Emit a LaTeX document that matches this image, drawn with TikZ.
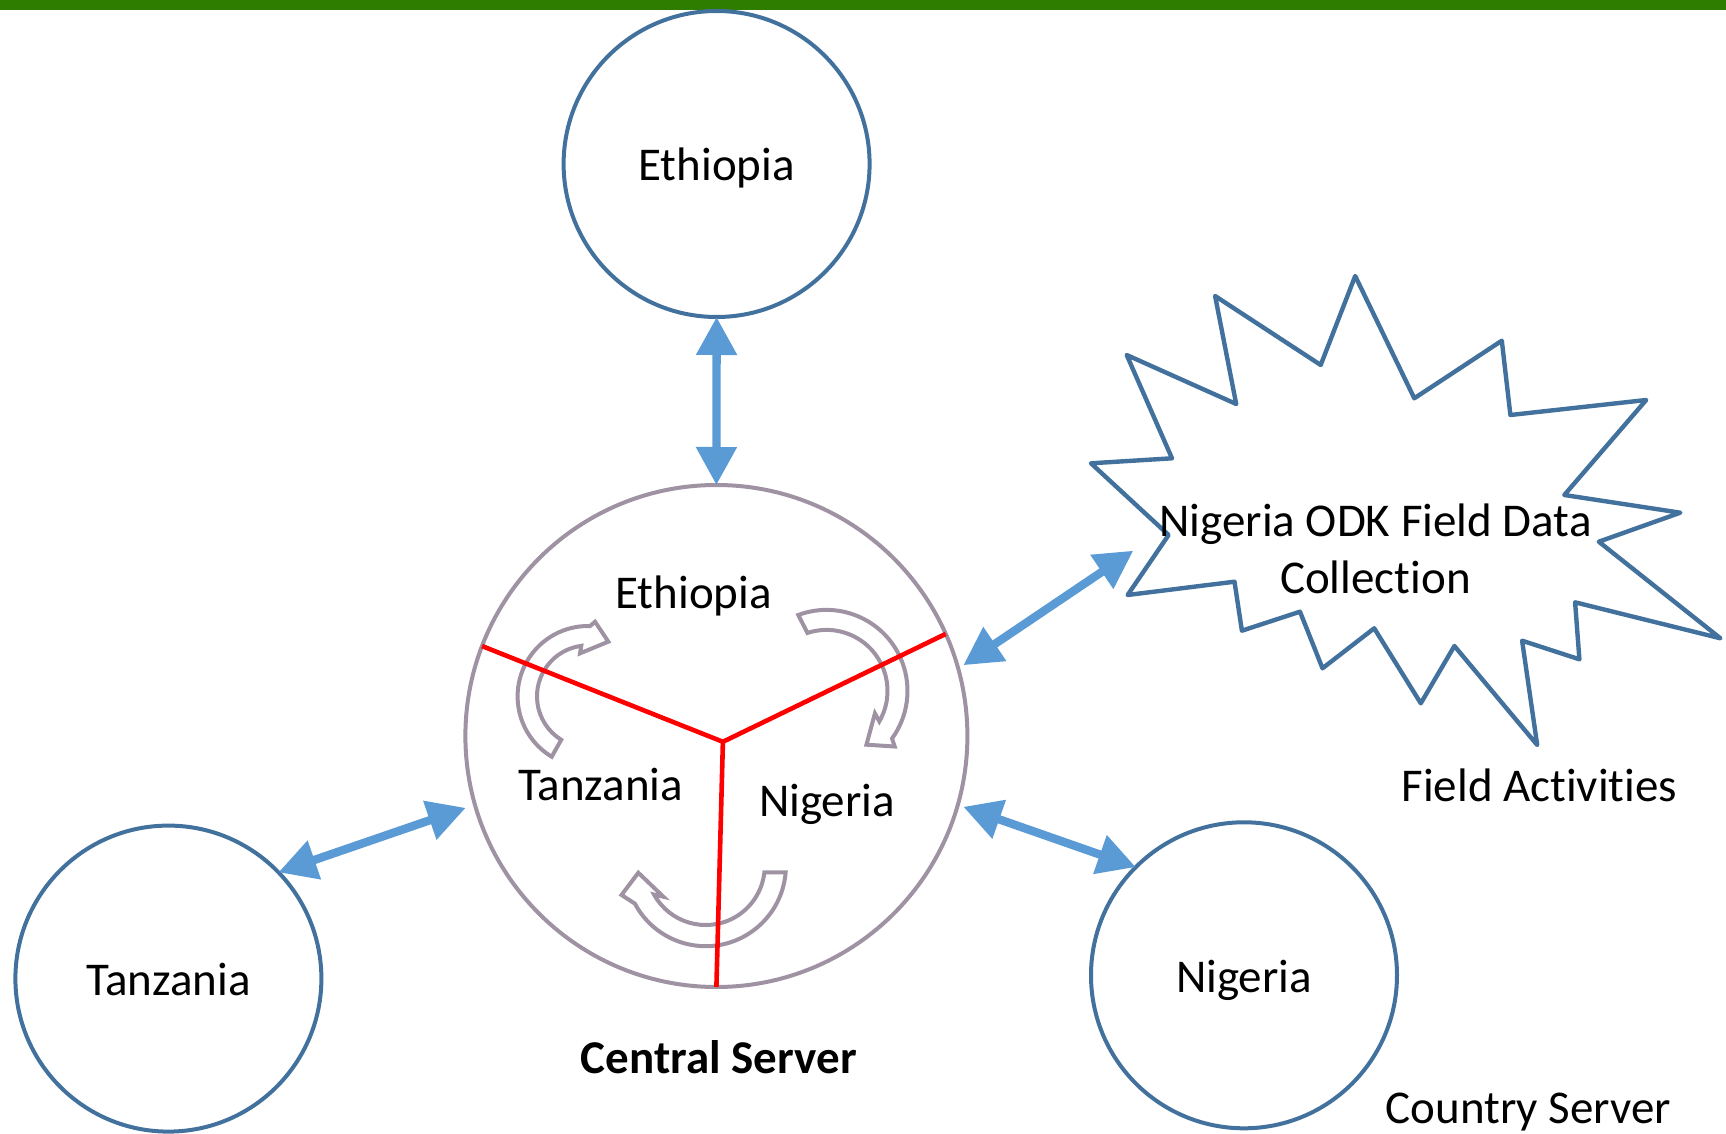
\documentclass[tikz,border=0pt]{standalone}
\usepackage{fontspec}
\setmainfont{Carlito}[Ligatures=NoCommon]
\usetikzlibrary{arrows.meta,calc}
\definecolor{cbord}{HTML}{41719C}
\definecolor{cblue}{HTML}{5B9BD5}
\definecolor{cgray}{HTML}{9E92A3}
\definecolor{cgreen}{HTML}{2E7D00}
\newcommand\lblfont{\fontsize{23.5}{28.5}\selectfont}
\begin{document}
\begin{tikzpicture}[x=0.5pt,y=-0.5pt,
  country/.style={circle,draw=cbord,line width=2pt,minimum size=153pt,inner sep=0pt,outer sep=0pt,text height=17pt,text depth=0pt,font=\lblfont},
  central/.style={circle,draw=cgray,line width=2pt,minimum size=251pt,inner sep=0pt,outer sep=0pt},
  conn/.style={draw=cblue,line width=4.2pt,<->,>={Triangle[length=19pt,width=19.5pt]}},
  redline/.style={draw=red,line width=2.3pt},
  cyc/.style={draw=cgray,line width=2pt,fill=white},
  starshape/.style={draw=cbord,line width=2.2pt,line join=round},
  lbl/.style={font=\lblfont,anchor=base,inner sep=0pt}]
\useasboundingbox (0,0) rectangle (1726,1134);
\fill[cgreen] (0,0) rectangle (1726,10);

% country servers and central server
\node[country] (eth) at (716.6,164) {Ethiopia};
\node[country] (tz) at (168.4,978.6) {Tanzania};
\node[country] (ng) at (1244,975.3) {Nigeria};
\node[central] (cs) at (716.4,736) {};

% circular arrows inside the central server
\draw[cyc,shift={(588,696.4)}] (121:70.4) arc[start angle=121,end angle=271.7,radius=70.4]
  -- (275.4:75) -- (290.4:58.4) -- (259.5:43.8) -- (262.4:51)
  arc[start angle=262.4,end angle=121.7,radius=51] -- cycle;
\draw[cyc,shift={(826.5,690.9)}] (-110.4:81) arc[start angle=-110.4,end angle=36,radius=81]
  -- (39.2:88) -- (53.4:67) -- (24.9:53.4) -- (30:61)
  arc[start angle=30,end angle=-108.2,radius=61] -- cycle;
\draw[cyc,shift={(705.7,866)}] (4.5:80.2) arc[start angle=4.5,end angle=152,radius=80.2]
  -- (161:89) -- (174.3:67.7) -- (144:52.3) -- (151:59)
  arc[start angle=151,end angle=6.2,radius=59] -- cycle;

% partition lines
\coordinate (hub) at (722.9,741.8);
\draw[redline] (hub) -- (cs.159.1);
\draw[redline] (hub) -- (cs.24.6);
\draw[redline] (hub) -- (cs.270);

% field activities star
\draw[starshape] (1355.2,276) -- (1414.3,398.3) -- (1501.8,340.7) -- (1510.4,415)
  -- (1646.2,400) -- (1564.3,495) -- (1680.3,512.7) -- (1598.8,541.7)
  -- (1720.4,638.3) -- (1575.1,602.3) -- (1579.4,659.3) -- (1522.1,640.7)
  -- (1537.2,745) -- (1454.4,646) -- (1420.8,703.3) -- (1374.2,628.3)
  -- (1322.5,668.3) -- (1300,611.7) -- (1241.9,630.7) -- (1234.5,581.7)
  -- (1127.6,595) -- (1168.6,535) -- (1091,463.3) -- (1172,458.3)
  -- (1126.7,355) -- (1236.2,404) -- (1215.1,296) -- (1320.7,365) -- cycle;
\coordinate (odkend) at (1133.3,550.7);

% connectors
\draw[conn] (eth.south) -- (cs.north);
\draw[conn] (tz.44.5) -- ($(cs.center)!1.039!(cs.196.5)$);
\draw[conn] ($(cs.center)!1.0235!(cs.16)$) -- (odkend);
\draw[conn] ($(cs.center)!1.0235!(cs.-16)$) -- (ng.135.3);

% labels
\node[lbl] (le) at (693.7,608.5) {Ethiopia};
\node[lbl] (lt) at (600.9,800.8) {Tanzania};
\node[lbl] (ln) at (827,816.5) {Nigeria};
\node[lbl,align=center] (odk) at (1375.5,593.3) {Nigeria ODK Field Data\\Collection};
\node[lbl] (fa) at (1539.4,801) {Field Activities};
\node[lbl] (csl) at (718.8,1073.3) {\bfseries Central Server};
\node[lbl] (csv) at (1528.4,1123) {Country Server};
\end{tikzpicture}
\end{document}
